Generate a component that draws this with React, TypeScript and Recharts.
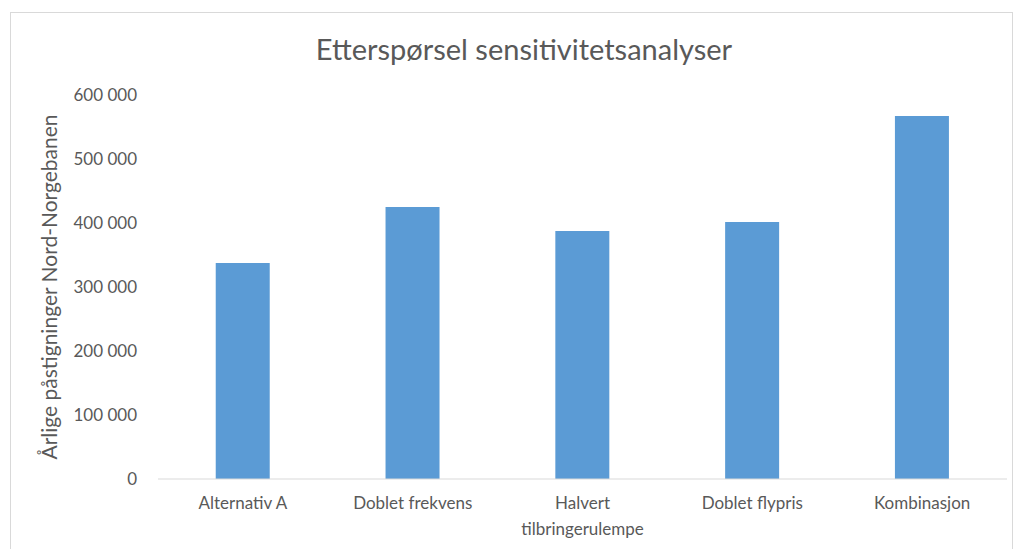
import React from "react";
import { Bar, BarChart, XAxis, YAxis } from "recharts";

const categories = [
  "Alternativ A",
  "Doblet frekvens",
  "Halvert tilbringerulempe",
  "Doblet flypris",
  "Kombinasjon",
];
const passengers = [337500, 425000, 387500, 401500, 567000];
const yTicks = [0, 100000, 200000, 300000, 400000, 500000, 600000];

const data = categories.map((c, i) => ({ name: c, value: passengers[i] }));

const FONT = "Lato, 'Noto Sans', sans-serif";
const GREY = "#595959";

function fmt(n: number): string {
  // Norwegian thousands separator (space)
  return n === 0 ? "0" : n.toLocaleString("en-US").replace(/,/g, " ");
}

function CategoryTick(props: any) {
  const { x, y, payload } = props;
  const words: string[] = String(payload.value).split(" ");
  // wrap long labels the way Excel does
  const lines: string[] =
    payload.value.length > 18 ? words : [payload.value];
  return (
    <text
      x={x}
      y={y + 22}
      textAnchor="middle"
      fontSize={17}
      fill={GREY}
      fontFamily={FONT}
    >
      {lines.map((l, i) => (
        <tspan key={i} x={x} dy={i === 0 ? 0 : 26}>
          {l}
        </tspan>
      ))}
    </text>
  );
}

export default function App() {
  return (
    <div
      style={{
        position: "absolute",
        left: 0,
        top: 0,
        width: 1018,
        height: 549,
        background: "#fff",
        overflow: "hidden",
      }}
    >
      <div
        style={{
          position: "absolute",
          left: 10,
          top: 12,
          width: 1001,
          height: 560,
          border: "1px solid #d9d9d9",
        }}
      />
      <div
        style={{
          position: "absolute",
          left: 0,
          top: 31,
          width: 1048,
          textAlign: "center",
          fontFamily: FONT,
          fontSize: 29,
          color: GREY,
        }}
      >
        Etterspørsel sensitivitetsanalyser
      </div>
      <div style={{ position: "absolute", left: 0, top: 0 }}>
        <BarChart
          width={1018}
          height={549}
          data={data}
          margin={{ top: 95, right: 11, left: 78, bottom: 40 }}
          barCategoryGap="34%"
        >
          <XAxis
            dataKey="name"
            height={30}
            axisLine={{ stroke: "#d9d9d9" }}
            tickLine={false}
            tick={<CategoryTick />}
            interval={0}
          />
          <YAxis
            width={80}
            domain={[0, 600000]}
            ticks={yTicks}
            axisLine={false}
            tickLine={false}
            tickSize={0}
            tickMargin={21}
            tickFormatter={fmt}
            tick={{ fontSize: 17, fill: GREY, fontFamily: FONT }}
            label={{
              content: () => (
                <text
                  x={48}
                  y={287}
                  transform="rotate(-90 48 287)"
                  textAnchor="middle"
                  dominantBaseline="central"
                  fontSize={21}
                  fill={GREY}
                  fontFamily={FONT}
                >
                  Årlige påstigninger Nord-Norgebanen
                </text>
              ),
            }}
          />
          <Bar dataKey="value" fill="#5b9bd5" isAnimationActive={false} />
        </BarChart>
      </div>
    </div>
  );
}
